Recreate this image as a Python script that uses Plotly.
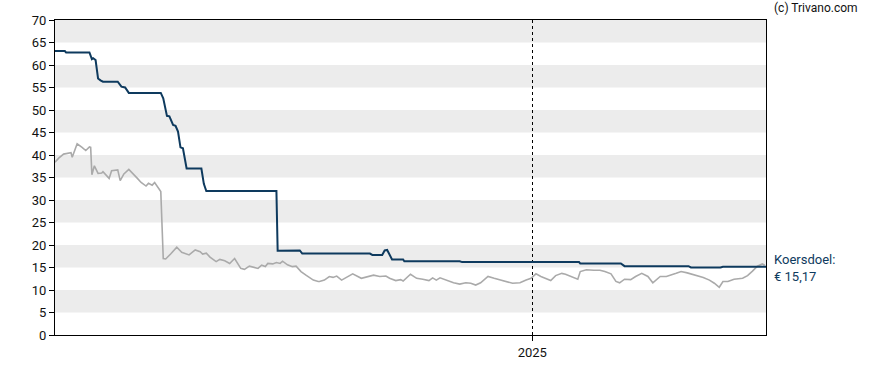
import plotly.graph_objects as go

price_dates = [
    "2023-12-10", "2023-12-13", "2023-12-17", "2023-12-21", "2023-12-23", "2023-12-24",
    "2023-12-28", "2024-01-01", "2024-01-04", "2024-01-07", "2024-01-08", "2024-01-09",
    "2024-01-11", "2024-01-14", "2024-01-17", "2024-01-18", "2024-01-23", "2024-01-25",
    "2024-01-30", "2024-02-01", "2024-02-04", "2024-02-08", "2024-02-13", "2024-02-15",
    "2024-02-18", "2024-02-22", "2024-02-24", "2024-02-27", "2024-02-29", "2024-03-03",
    "2024-03-05", "2024-03-07", "2024-03-09", "2024-03-13", "2024-03-18", "2024-03-22",
    "2024-03-28", "2024-04-02", "2024-04-06", "2024-04-08", "2024-04-11", "2024-04-14",
    "2024-04-19", "2024-04-22", "2024-04-26", "2024-04-30", "2024-05-04", "2024-05-09",
    "2024-05-12", "2024-05-16", "2024-05-20", "2024-05-23", "2024-05-26", "2024-05-29",
    "2024-05-31", "2024-06-04", "2024-06-07", "2024-06-10", "2024-06-12", "2024-06-16",
    "2024-06-19", "2024-06-20", "2024-06-23", "2024-06-27", "2024-07-01", "2024-07-07",
    "2024-07-11", "2024-07-12", "2024-07-16", "2024-07-20", "2024-07-23", "2024-07-26",
    "2024-07-30", "2024-08-03", "2024-08-08", "2024-08-15", "2024-08-21", "2024-08-25",
    "2024-08-30", "2024-09-04", "2024-09-07", "2024-09-12", "2024-09-16", "2024-09-18",
    "2024-09-24", "2024-09-29", "2024-10-04", "2024-10-09", "2024-10-12", "2024-10-15",
    "2024-10-18", "2024-10-23", "2024-10-29", "2024-11-03", "2024-11-08", "2024-11-12",
    "2024-11-16", "2024-11-20", "2024-11-26", "2024-12-01", "2024-12-08", "2024-12-16",
    "2024-12-22", "2024-12-24", "2024-12-27", "2024-12-31", "2025-01-04", "2025-01-08",
    "2025-01-12", "2025-01-16", "2025-01-20", "2025-01-25", "2025-01-28", "2025-02-01",
    "2025-02-05", "2025-02-07", "2025-02-09", "2025-02-14", "2025-02-20", "2025-02-25",
    "2025-03-01", "2025-03-06", "2025-03-10", "2025-03-13", "2025-03-17", "2025-03-22",
    "2025-03-26", "2025-03-31", "2025-04-05", "2025-04-09", "2025-04-15", "2025-04-20",
    "2025-04-28", "2025-05-02", "2025-05-07", "2025-05-13", "2025-05-20", "2025-05-25",
    "2025-05-29", "2025-06-02", "2025-06-05", "2025-06-09", "2025-06-14", "2025-06-21",
    "2025-06-25", "2025-06-29", "2025-07-03", "2025-07-07", "2025-07-09",
]
price_values = [
    38.4, 39.3, 40.2, 40.4, 40.5, 39.5,
    42.5, 41.7, 41.0, 41.8, 41.7, 35.6,
    37.6, 35.9, 36.0, 36.3, 34.8, 36.5,
    36.7, 34.3, 35.8, 36.8, 35.2, 34.8,
    33.9, 33.1, 33.7, 33.3, 33.9, 32.7,
    31.9, 17.0, 16.9, 18.0, 19.5, 18.4,
    17.8, 18.9, 18.5, 18.0, 18.2, 17.3,
    16.3, 16.8, 16.5, 15.9, 17.0, 14.8,
    14.6, 15.3, 15.1, 14.8, 15.5, 15.2,
    15.9, 15.8, 16.1, 15.9, 16.4, 15.6,
    15.3, 15.2, 15.3, 14.1, 13.3, 12.2,
    11.9, 11.9, 12.2, 13.0, 12.8, 13.1,
    12.2, 12.8, 13.6, 12.6, 13.1, 13.3,
    13.0, 13.1, 12.6, 12.1, 12.3, 12.0,
    13.5, 12.6, 12.4, 12.1, 12.7, 12.2,
    12.7, 12.2, 11.6, 11.3, 11.6, 11.5,
    11.1, 11.6, 13.0, 12.6, 12.1, 11.5,
    11.6, 11.9, 12.2, 12.6, 13.6, 13.0,
    12.6, 12.1, 13.2, 13.7, 13.5, 13.1,
    12.7, 12.4, 14.1, 14.5, 14.4, 14.4,
    14.1, 13.6, 11.9, 11.6, 12.4, 12.3,
    13.0, 13.7, 13.0, 11.6, 13.0, 13.0,
    13.7, 14.1, 13.8, 13.3, 12.8, 12.2,
    11.5, 10.6, 11.9, 11.9, 12.4, 12.6,
    13.2, 14.2, 15.3, 15.8, 15.5,
]

target_dates = [
    "2023-12-10", "2023-12-18", "2023-12-19", "2024-01-07", "2024-01-09", "2024-01-10",
    "2024-01-12", "2024-01-14", "2024-01-16", "2024-01-18", "2024-01-30", "2024-02-02",
    "2024-02-05", "2024-02-08", "2024-03-05", "2024-03-07", "2024-03-10", "2024-03-12",
    "2024-03-15", "2024-03-17", "2024-03-19", "2024-03-21", "2024-03-23", "2024-03-26",
    "2024-04-07", "2024-04-09", "2024-04-11", "2024-06-07", "2024-06-08", "2024-06-26",
    "2024-06-28", "2024-08-22", "2024-08-24", "2024-09-01", "2024-09-03", "2024-09-05",
    "2024-09-09", "2024-09-18", "2024-09-19", "2024-11-03", "2024-11-05", "2025-02-08",
    "2025-02-09", "2025-03-14", "2025-03-17", "2025-05-08", "2025-05-10", "2025-06-03",
    "2025-06-05", "2025-07-10",
]
target_values = [
    63.1, 63.1, 62.8, 62.8, 61.3, 61.5,
    61.1, 57.0, 56.6, 56.3, 56.3, 55.2,
    55.0, 53.8, 53.8, 52.6, 48.7, 48.6,
    46.7, 46.5, 45.2, 41.7, 41.5, 37.0,
    37.0, 33.6, 32.0, 32.0, 18.7, 18.8,
    18.1, 18.1, 17.8, 17.8, 18.8, 18.9,
    16.8, 16.8, 16.4, 16.4, 16.2, 16.2,
    15.9, 15.9, 15.3, 15.3, 15.0, 15.0,
    15.17, 15.17,
]

y_ticks = [0, 5, 10, 15, 20, 25, 30, 35, 40, 45, 50, 55, 60, 65, 70]
band_ranges = [(5, 10), (15, 20), (25, 30), (35, 40), (45, 50), (55, 60), (65, 70)]
x_range = ["2023-12-10", "2025-07-10"]
year_tick = ["2025-01-01"]
year_label = ["2025"]
target_label = "Koersdoel:<br>€ 15,17"
copyright_text = "(c) Trivano.com"

fig = go.Figure()

fig.add_trace(go.Scatter(
    x=price_dates, y=price_values, mode="lines",
    line=dict(color="#aaaaaa", width=1.6), hoverinfo="skip", showlegend=False,
))
fig.add_trace(go.Scatter(
    x=target_dates, y=target_values, mode="lines",
    line=dict(color="#0e3a5e", width=2), hoverinfo="skip", showlegend=False,
))

shapes = []
for lo, hi in band_ranges:
    shapes.append(dict(type="rect", xref="paper", yref="y", x0=0, x1=1, y0=lo, y1=hi,
                       fillcolor="#ececec", line=dict(width=0), layer="below"))

fig.update_layout(
    width=888, height=370,
    margin=dict(l=55, r=122, t=20, b=35, autoexpand=False),
    paper_bgcolor="white", plot_bgcolor="white",
    font=dict(family="Roboto, Arial, sans-serif", size=13, color="#111111"),
    shapes=shapes,
    xaxis=dict(
        type="date", range=x_range, automargin=False,
        tickvals=year_tick, ticktext=year_label,
        showgrid=True, gridcolor="#000000", gridwidth=1, griddash="dot",
        showline=True, linecolor="#000000", linewidth=1, mirror=True,
        ticks="outside", ticklen=5, tickcolor="#000000",
        zeroline=False, layer="above traces",
    ),
    yaxis=dict(
        range=[0, 70], tickvals=y_ticks, automargin=False,
        showgrid=False, zeroline=False,
        showline=True, linecolor="#000000", linewidth=1, mirror=True,
        ticks="outside", ticklen=5, tickcolor="#000000",
    ),
    annotations=[
        dict(text=copyright_text, xref="paper", yref="paper", x=1.0, y=1.0,
             xshift=6, yshift=3, xanchor="left", yanchor="bottom", showarrow=False,
             font=dict(size=12, color="#111111")),
        dict(text=target_label, xref="paper", yref="y", x=1.0, y=15.0,
             xshift=6, xanchor="left", yanchor="middle", align="left", showarrow=False,
             font=dict(size=13, color="#0e3a5e")),
    ],
)

fig.write_html(
    "out.html",
    config={"displayModeBar": False},
    post_script="document.body.style.margin='0';document.body.style.overflow='hidden';",
)
